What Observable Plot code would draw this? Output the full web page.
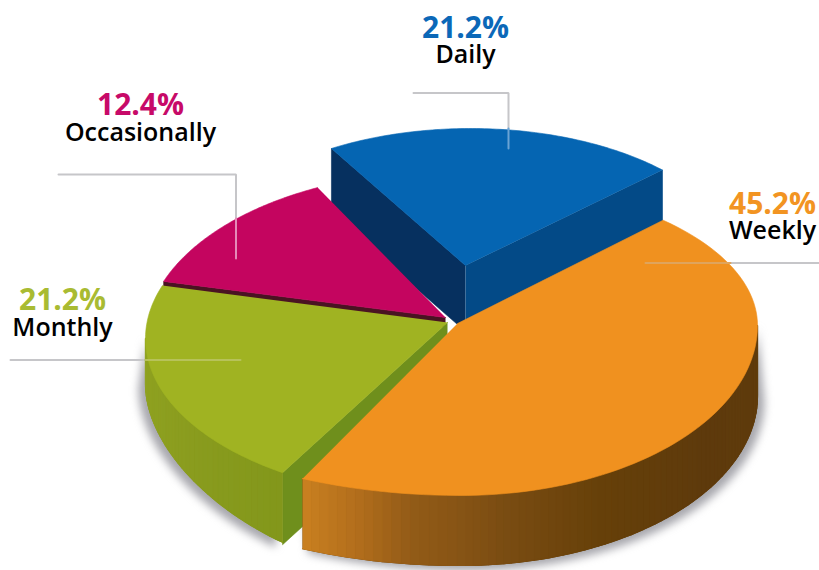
<!DOCTYPE html>
<html>
<head>
<meta charset="utf-8">
<style>
  html, body { margin: 0; padding: 0; background: #fff; }
  .soft { filter: blur(4px); }
  svg { display: block; }
</style>
<script src="https://cdn.jsdelivr.net/npm/d3@7"></script>
<script src="https://cdn.jsdelivr.net/npm/@observablehq/plot@0.6"></script>
</head>
<body>
<div id="chart"></div>
<script>
// ---- chart values
const categories = ["Daily", "Weekly", "Monthly", "Occasionally"];
const shares = [21.2, 45.2, 21.2, 12.4];
const shareLabels = ["21.2%", "45.2%", "21.2%", "12.4%"];

// ---- look of each slice (perspective ellipse of its top face, apex and rotation)
const palette = {
  Daily: {top: "#0565b2", label: "#0b68b8"},
  Weekly: {top: "#f0911f", label: "#f29422"},
  Monthly: {top: "#a0b322", label: "#a9bb32"},
  Occasionally: {top: "#c4055f", label: "#c70a68"}
};
const faces = {
  Daily: {ax: 465, ay: 265, ex: 470, ey: 268, rxR: 270, rxL: 270, ryT: 140, ryB: 140, start: -121},
  Weekly: {ax: 457, ay: 323, ex: 460, ey: 325, rxR: 297, rxL: 364, ryT: 144, ryB: 170, start: -47},
  Monthly: {ax: 447, ay: 322, ex: 446, ey: 338, rxR: 301, rxL: 301, ryT: 160, ryB: 160, start: 123},
  Occasionally: {ax: 445, ay: 317, ex: 446, ey: 338, rxR: 301, rxL: 301, ryT: 167, ryB: 167, start: 200}
};

const rad = Math.PI / 180;
const onRim = (f, deg) => {
  const c = Math.cos(deg * rad), s = Math.sin(deg * rad);
  return [f.ex + c * (c >= 0 ? f.rxR : f.rxL), f.ey + s * (s >= 0 ? f.ryB : f.ryT)];
};
const sweep = (name) => {
  const f = faces[name], share = shares[categories.indexOf(name)];
  return [f.start, f.start + share * 3.6];
};
const rimPoints = (name, from, to, n = 90) =>
  d3.range(n + 1).map((i) => onRim(faces[name], from + (to - from) * i / n));

const addTo = (list, pts, fill) => {
  const id = list.length ? list[list.length - 1].id + 1 : 0;
  pts.forEach(([x, y]) => list.push({id, x, y, fill}));
};

const sideWall = (list, name, a0, d, fill) => {
  const f = faces[name], p = onRim(f, a0), apex = [f.ax, f.ay];
  addTo(list, [apex, p, [p[0], p[1] + d], [apex[0], apex[1] + d]], fill);
};
const topFace = (list, name) => {
  const f = faces[name], [a0, a1] = sweep(name);
  addTo(list, [[f.ax, f.ay], ...rimPoints(name, a0, a1)], palette[name].top);
};
const rimWall = (list, name, a0, a1, depth, shade) => {
  const f = faces[name], n = Math.ceil(Math.abs(a1 - a0) / 1.5);
  // solid backing so no white shows through the seams of the strips
  const steps = d3.range(n + 1).map((i) => a0 + (a1 - a0) * i / n);
  addTo(list, [...steps.map((a) => onRim(f, a)),
    ...steps.slice().reverse().map((a) => { const p = onRim(f, a); return [p[0], p[1] + depth(a)]; })], shade(0.5));
  for (let i = 0; i < n; ++i) {
    const u = steps[i], v = steps[i + 1];
    const p = onRim(f, u), q = onRim(f, v);
    addTo(list, [p, q, [q[0], q[1] + depth(v)], [p[0], p[1] + depth(u)]], shade(i / n));
  }
};

// soft shadows under the rim
const shadows = [];
const addShadow = (name, a0, a1, depth, ox, oy) => {
  const f = faces[name];
  d3.range(a0, a1 + 1).forEach((a) => {
    const p = onRim(f, a);
    shadows.push({id: name, x: p[0] + ox, y: p[1] + depth(a) + oy});
  });
  d3.range(a1, a0 - 1, -1).forEach((a) => {
    const p = onRim(f, a);
    shadows.push({id: name, x: p[0], y: p[1]});
  });
};

const greenDepth = (a) => 45 + 35 * Math.sin(a * rad) ** 2;
const orangeDepth = () => 70;
addShadow("Monthly", 123, 180, greenDepth, -7, 5);
addShadow("Weekly", 0, 116, orangeDepth, 7, 5);

const greenShade = d3.scaleLinear().domain([0, 0.5, 1]).range(["#83971b", "#8b9d1f", "#90a321"]);
const orangeShade = d3.scaleLinear()
  .domain([0, 0.08, 0.15, 0.29, 0.46, 0.69, 1])
  .range(["#c87f20", "#b06c1c", "#925b17", "#7a4c12", "#664009", "#5e3a0c", "#603c0c"]);

// painter's order: back to front (each group is a separate mark)
const back = [], mid = [], greenWall = [], greenTop = [], orangeWall = [], orangeTop = [];
const [dailyA0, dailyA1] = sweep("Daily");
sideWall(back, "Daily", dailyA0, 66, "#06305f");
sideWall(back, "Daily", dailyA1, 60, "#034a87");
topFace(back, "Daily");

const [occA0] = sweep("Occasionally");
sideWall(mid, "Occasionally", occA0, 10, "#4a1322");
topFace(mid, "Occasionally");

const [monA0] = sweep("Monthly");
sideWall(mid, "Monthly", monA0, 72, "#6f8f1c");
rimWall(greenWall, "Monthly", monA0, 180, greenDepth, greenShade);
topFace(greenTop, "Monthly");

const [wkA0, wkA1] = sweep("Weekly");
rimWall(orangeWall, "Weekly", wkA1, 0, orangeDepth, orangeShade);
topFace(orangeTop, "Weekly");

// ---- leader lines
const leaderOut = [
  {id: "d", x: 413, y: 92.5}, {id: "d", x: 508, y: 92.5}, {id: "d", x: 508, y: 128},
  {id: "o", x: 58, y: 174}, {id: "o", x: 235.5, y: 174}, {id: "o", x: 235.5, y: 218},
  {id: "m", x: 10, y: 359.5}, {id: "m", x: 145, y: 359.5},
  {id: "w", x: 730, y: 262.5}, {id: "w", x: 819, y: 262.5}
];
const leaderIn = [
  {id: "d", x: 508, y: 128, s: "#6aa3d4"}, {id: "d", x: 508, y: 148, s: "#6aa3d4"},
  {id: "o", x: 235.5, y: 218, s: "#e58ab8"}, {id: "o", x: 235.5, y: 258, s: "#e58ab8"},
  {id: "m", x: 145, y: 359.5, s: "#b7c25a"}, {id: "m", x: 240, y: 359.5, s: "#b7c25a"},
  {id: "w", x: 645, y: 262.5, s: "#dfa45c"}, {id: "w", x: 730, y: 262.5, s: "#dfa45c"}
];

// ---- labels
const labelSpots = {
  Daily: {x: 465, y1: 37, y2: 62},
  Weekly: {x: 772, y1: 213, y2: 238},
  Monthly: {x: 62, y1: 309, y2: 335},
  Occasionally: {x: 140, y1: 114, y2: 140}
};
const labels = categories.map((c, i) => ({
  name: c, share: shareLabels[i], color: palette[c].label, ...labelSpots[c]
}));

const face = (rows, width = 0.6) =>
  Plot.line(rows, {x: "x", y: "y", z: "id", fill: "fill", stroke: "fill", strokeWidth: width, strokeLinejoin: "round"});

const font = "'Open Sans', sans-serif";
const chart = Plot.plot({
  width: 819,
  height: 570,
  margin: 0,
  x: {axis: null, domain: [0, 819], range: [0, 819]},
  y: {axis: null, domain: [0, 570], range: [0, 570]},
  color: {type: "identity"},
  style: {background: "#fff"},
  marks: [
    Plot.line(shadows, {x: "x", y: "y", z: "id", fill: "#8a8a92", stroke: "none", fillOpacity: 0.75, className: "soft"}),
    Plot.line(leaderOut, {x: "x", y: "y", z: "id", stroke: "#c6c6c9", strokeWidth: 2, strokeLinejoin: "miter"}),
    face(back),
    face(mid),
    face(greenWall, 1.2),
    face(greenTop),
    face(orangeWall, 1.2),
    face(orangeTop),
    Plot.line(leaderIn, {x: "x", y: "y", z: "id", stroke: "s", strokeWidth: 2}),
    Plot.text(labels, {x: "x", y: "y1", text: "share", fill: "color", fontSize: 30, fontWeight: 700, fontFamily: font, lineAnchor: "bottom", textAnchor: "middle"}),
    Plot.text(labels, {x: "x", y: "y2", text: "name", fill: "#000", fontSize: 25, fontWeight: 600, fontFamily: font, lineAnchor: "bottom", textAnchor: "middle"})
  ]
});
document.getElementById("chart").appendChild(chart);
</script>
</body>
</html>
